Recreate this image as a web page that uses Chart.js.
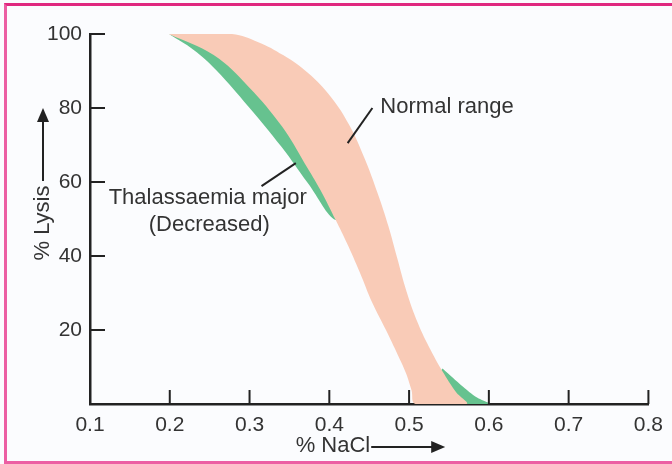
<!DOCTYPE html>
<html>
<head>
<meta charset="utf-8">
<script src="https://cdn.jsdelivr.net/npm/chart.js@4.4.0/dist/chart.umd.min.js"></script>
<style>
  html, body { margin: 0; padding: 0; background: #fbfcfe; }
  #wrap { position: relative; width: 672px; height: 464px; }
  #frame {
    position: absolute; left: 4px; top: 3px; width: 672px; height: 455px;
    border: 3px solid #ec5fa3; border-top-color: #e0287f; border-right: none; pointer-events: none;
  }
</style>
</head>
<body>
<div id="wrap">
  <canvas id="fragility" width="672" height="464"></canvas>
  <div id="frame"></div>
</div>
<script>
// axis ticks
const xTicks = [0.1, 0.2, 0.3, 0.4, 0.5, 0.6, 0.7, 0.8];
const yTicks = [20, 40, 60, 80, 100];

// normal range band, outline traced from the 100% tip (right edge down, left edge back up)
const normalX = [0.199, 0.236, 0.278, 0.311, 0.342, 0.373, 0.402, 0.425, 0.444, 0.460, 0.474, 0.485, 0.497, 0.511, 0.527, 0.544, 0.559, 0.572,
                 0.508, 0.503, 0.496, 0.486, 0.471, 0.454, 0.438, 0.422, 0.408, 0.389, 0.369, 0.341, 0.299, 0.255, 0.199];
const normalY = [100, 100, 100, 97.8, 94.3, 89.5, 83.0, 75.4, 66.5, 57.3, 48.1, 39.5, 30.3, 21.9, 14.6, 8.1, 3.2, 0,
                 0, 3.8, 8.4, 13.2, 20.0, 27.3, 35.7, 43.5, 49.7, 57.8, 65.1, 74.9, 85.7, 94.3, 100];

// thalassaemia major, upper part showing left of the band
const thalUpperX = [0.199, 0.230, 0.258, 0.299, 0.340, 0.373, 0.408, 0.415, 0.385, 0.345, 0.290, 0.199];
const thalUpperY = [100, 95.7, 90.3, 80.3, 69.5, 59.7, 49.7, 56, 70, 82, 93, 100];

// thalassaemia major, tail showing right of the band near 0%
const thalTailX = [0.542, 0.568, 0.584, 0.600, 0.540, 0.530, 0.542];
const thalTailY = [9.6, 4.6, 1.9, 0, 0, 6, 9.6];

const PEACH = '#f9cbb7';
const GREEN = '#66c28f';
const INK = '#222';
const TEXT = '#333';
const FAMILY = '"Liberation Sans", Arial, sans-serif';
const FONT = '22px ' + FAMILY;

function pts(xs, ys) {
  return xs.map((v, i) => ({ x: v, y: ys[i] }));
}

function shape(label, xs, ys, color) {
  return {
    label: label,
    data: pts(xs, ys),
    backgroundColor: color,
    borderColor: 'transparent',
    borderWidth: 0,
    pointRadius: 0,
    tension: 0.4,
    fill: 'shape'
  };
}

// tick marks pointing inward, arrows, axis titles and the two labels
const decor = {
  id: 'decor',
  afterDraw(chart) {
    const { ctx, chartArea: a, scales: { x, y } } = chart;
    const seg = (x1, y1, x2, y2) => {
      ctx.beginPath(); ctx.moveTo(x1, y1); ctx.lineTo(x2, y2); ctx.stroke();
    };
    ctx.save();
    ctx.strokeStyle = INK;
    ctx.fillStyle = INK;
    ctx.lineWidth = 2;

    xTicks.forEach(v => {
      const px = x.getPixelForValue(v);
      seg(px, a.bottom, px, a.bottom - 14);
    });
    yTicks.forEach(v => {
      const py = y.getPixelForValue(v);
      seg(a.left, py, a.left + 15, py);
    });

    // leader lines
    seg(x.getPixelForValue(0.423), y.getPixelForValue(70.5), x.getPixelForValue(0.454), y.getPixelForValue(80));
    seg(x.getPixelForValue(0.315), y.getPixelForValue(58.9), x.getPixelForValue(0.358), y.getPixelForValue(65.1));

    // x title with arrow
    const cx = (a.left + a.right) / 2 + 2;
    const ty = 446;
    seg(cx, ty + 1, cx + 62, ty + 1);
    ctx.beginPath();
    ctx.moveTo(cx + 74, ty + 1); ctx.lineTo(cx + 60, ty - 5); ctx.lineTo(cx + 60, ty + 7); ctx.closePath(); ctx.fill();

    // y title with arrow
    const ax = 43;
    seg(ax, 181, ax, 120);
    ctx.beginPath();
    ctx.moveTo(ax, 108); ctx.lineTo(ax - 6, 122); ctx.lineTo(ax + 6, 122); ctx.closePath(); ctx.fill();

    ctx.fillStyle = TEXT;
    ctx.font = FONT;
    ctx.textBaseline = 'middle';
    ctx.textAlign = 'right';
    ctx.fillText('% NaCl', cx - 1, ty);

    ctx.save();
    ctx.translate(ax, 223);
    ctx.rotate(-Math.PI / 2);
    ctx.textAlign = 'center';
    ctx.fillText('% Lysis', 0, 0);
    ctx.restore();

    ctx.textAlign = 'left';
    ctx.fillText('Normal range', x.getPixelForValue(0.464), y.getPixelForValue(80.3));
    ctx.textAlign = 'center';
    ctx.fillText('Thalassaemia major', x.getPixelForValue(0.2475), y.getPixelForValue(55.7));
    ctx.fillText('(Decreased)', x.getPixelForValue(0.2495), y.getPixelForValue(48.4));
    ctx.restore();
  }
};

new Chart(document.getElementById('fragility'), {
  type: 'line',
  data: {
    datasets: [
      shape('Normal range', normalX, normalY, PEACH),
      shape('Thalassaemia major', thalUpperX, thalUpperY, GREEN),
      shape('Thalassaemia major tail', thalTailX, thalTailY, GREEN)
    ]
  },
  options: {
    responsive: false,
    animation: false,
    layout: { padding: { left: 0, right: 18, top: 34, bottom: 0 } },
    plugins: { legend: { display: false }, tooltip: { enabled: false } },
    scales: {
      x: {
        type: 'linear',
        min: 0.1,
        max: 0.8,
        afterBuildTicks: s => { s.ticks = xTicks.map(v => ({ value: v })); },
        afterFit: s => { s.height = 60; },
        grid: { display: false, drawTicks: false },
        border: { display: true, color: INK, width: 2.5 },
        ticks: {
          padding: 9,
          color: TEXT,
          font: { family: FAMILY, size: 21 },
          callback: v => v.toFixed(1)
        }
      },
      y: {
        min: 0,
        max: 100,
        afterBuildTicks: s => { s.ticks = yTicks.map(v => ({ value: v })); },
        afterFit: s => { s.width = 90; },
        grid: { display: false, drawTicks: false },
        border: { display: true, color: INK, width: 2.5 },
        ticks: {
          padding: 8,
          color: TEXT,
          font: { family: FAMILY, size: 21 },
          callback: v => String(v)
        }
      }
    }
  },
  plugins: [decor]
});
</script>
</body>
</html>
